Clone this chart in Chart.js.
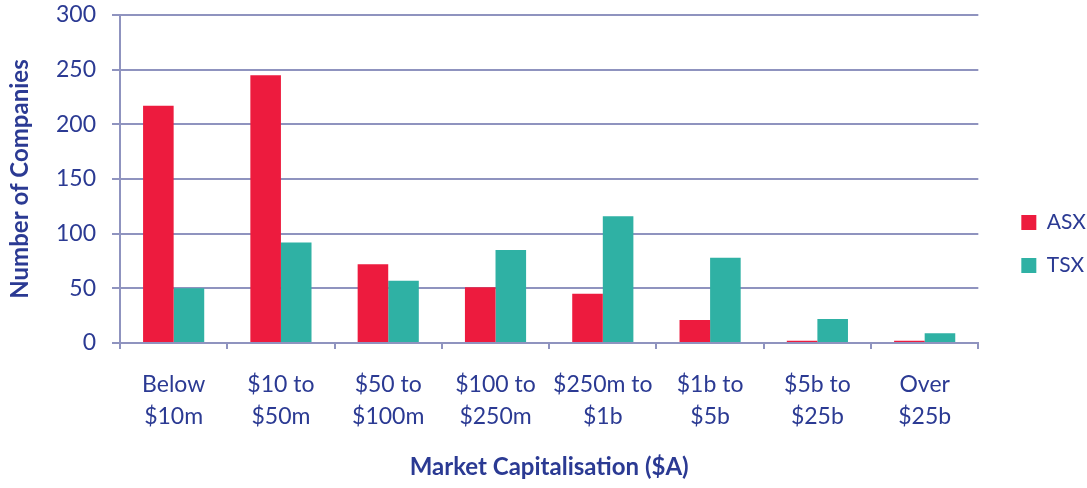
<!DOCTYPE html>
<html>
<head>
<meta charset="utf-8">
<script src="https://cdn.jsdelivr.net/npm/chart.js@4"></script>
<style>
  html, body { margin: 0; padding: 0; background: #fff; }
  #wrap { width: 1087px; height: 488px; }
</style>
</head>
<body>
<div id="wrap"><canvas id="capChart"></canvas></div>
<script>
// chart data
const categories = [
    ['Below', '$10m'], ['$10 to', '$50m'], ['$50 to', '$100m'], ['$100 to', '$250m'],
    ['$250m to', '$1b'], ['$1b to', '$5b'], ['$5b to', '$25b'], ['Over', '$25b']
];
const asxValues = [217, 245, 72, 51, 45, 21, 2, 2];
const tsxValues = [50, 92, 57, 85, 116, 78, 22, 9];
const yTicks = [0, 50, 100, 150, 200, 250, 300];

const textColor = '#2B3A93';
const gridColor = '#8F93BF';
const fontFamily = 'Lato, "Open Sans", sans-serif';

// nudge the legend to the right, away from the plot area
const legendShift = {
    id: 'legendShift',
    afterLayout: function(chart) {
        if (chart.legend) {
            chart.legend.left += 21;
            chart.legend.right += 21;
        }
    }
};

document.addEventListener('DOMContentLoaded', function() {
    'use strict';

    const ctx = document.getElementById('capChart').getContext('2d');
    const capChart = new Chart(ctx, {
        type: 'bar',
        data: {
            labels: categories,
            datasets: [
                {
                    label: 'ASX',
                    data: asxValues,
                    backgroundColor: '#ED1B3E',
                    categoryPercentage: 0.57,
                    barPercentage: 1.0
                },
                {
                    label: 'TSX',
                    data: tsxValues,
                    backgroundColor: '#2FB1A4',
                    categoryPercentage: 0.57,
                    barPercentage: 1.0
                }
            ]
        },
        plugins: [legendShift],
        options: {
            responsive: true,
            maintainAspectRatio: false,
            animation: false,
            layout: {
                padding: { top: 0, right: 12, bottom: 0, left: 0 }
            },
            plugins: {
                legend: {
                    position: 'right',
                    labels: {
                        boxWidth: 15,
                        boxHeight: 15,
                        padding: 22,
                        color: textColor,
                        font: { family: fontFamily, size: 21 }
                    }
                },
                tooltip: { enabled: false }
            },
            scales: {
                x: {
                    afterFit: function(scale) { scale.height = 145; },
                    grid: {
                        offset: true,
                        drawOnChartArea: false,
                        drawTicks: true,
                        tickLength: 6,
                        color: gridColor,
                        lineWidth: 2
                    },
                    border: { color: gridColor, width: 2 },
                    ticks: {
                        color: textColor,
                        padding: 20,
                        maxRotation: 0,
                        autoSkip: false,
                        font: { family: fontFamily, size: 23, lineHeight: 1.39 }
                    },
                    title: {
                        display: true,
                        text: 'Market Capitalisation ($A)',
                        color: textColor,
                        padding: { top: 0, bottom: 6 },
                        font: { family: fontFamily, size: 24, weight: 'bold' }
                    }
                },
                y: {
                    min: 0,
                    max: 300,
                    afterFit: function(scale) {
                        scale.width = 120;
                        scale.paddingTop = 15;
                        scale.paddingBottom = 15;
                    },
                    afterBuildTicks: function(scale) {
                        scale.ticks = yTicks.map(v => ({ value: v }));
                    },
                    grid: {
                        drawTicks: true,
                        tickLength: 8,
                        color: gridColor,
                        lineWidth: 2
                    },
                    border: { color: gridColor, width: 2 },
                    ticks: {
                        color: textColor,
                        padding: 16,
                        font: { family: fontFamily, size: 23 }
                    },
                    title: {
                        display: true,
                        text: 'Number of Companies',
                        color: textColor,
                        padding: { top: 6, bottom: 0 },
                        font: { family: fontFamily, size: 24, weight: 'bold' }
                    }
                }
            }
        }
    });
});
</script>
</body>
</html>
